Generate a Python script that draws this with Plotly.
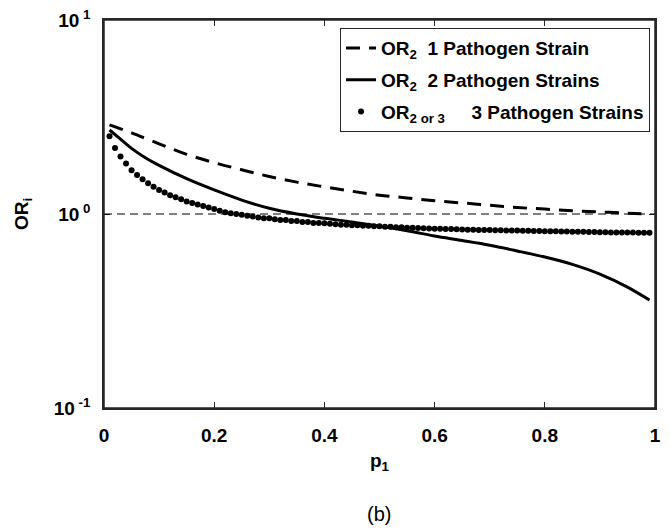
import plotly.graph_objects as go

# ---- data ----
p_dashed = [0.01, 0.05, 0.10, 0.15, 0.20, 0.25, 0.30, 0.35, 0.40, 0.45, 0.50,
            0.55, 0.60, 0.65, 0.70, 0.75, 0.80, 0.85, 0.90, 0.95, 0.99]
or_one_strain = [2.88, 2.62, 2.30, 2.03, 1.84, 1.69, 1.56, 1.46, 1.38, 1.31, 1.25,
                 1.21, 1.17, 1.14, 1.11, 1.08, 1.06, 1.04, 1.025, 1.01, 1.00]

p_solid = [0.01, 0.03, 0.05, 0.075, 0.10, 0.15, 0.20, 0.25, 0.30, 0.35, 0.40, 0.45,
           0.50, 0.55, 0.60, 0.65, 0.70, 0.75, 0.80, 0.85, 0.90, 0.95, 0.99]
or_two_strains = [2.71, 2.43, 2.18, 1.95, 1.78, 1.52, 1.33, 1.18, 1.07, 1.00, 0.95, 0.91,
                  0.865, 0.82, 0.77, 0.73, 0.69, 0.645, 0.60, 0.55, 0.49, 0.42, 0.36]

p_dots = [round(0.01 * k, 2) for k in range(1, 100)]
or_three_strains = [
    2.52, 2.19, 1.98, 1.82, 1.68, 1.59, 1.51, 1.44, 1.38, 1.33,
    1.29, 1.25, 1.22, 1.19, 1.16, 1.14, 1.12, 1.10, 1.08, 1.06,
    1.04, 1.02, 1.01, 1.00, 0.99, 0.98, 0.97, 0.96, 0.95, 0.95,
    0.94, 0.93, 0.93, 0.92, 0.92, 0.91, 0.91, 0.90, 0.90, 0.895,
    0.89, 0.885, 0.88, 0.88, 0.875, 0.875, 0.87, 0.87, 0.865, 0.865,
    0.86, 0.86, 0.855, 0.855, 0.85, 0.85, 0.848, 0.845, 0.843, 0.84,
    0.84, 0.838, 0.836, 0.834, 0.832, 0.83, 0.83, 0.828, 0.827, 0.826,
    0.825, 0.824, 0.823, 0.822, 0.821, 0.82, 0.819, 0.818, 0.817, 0.816,
    0.815, 0.814, 0.813, 0.812, 0.811, 0.81, 0.809, 0.808, 0.807, 0.806,
    0.805, 0.804, 0.803, 0.803, 0.802, 0.802, 0.801, 0.801, 0.80,
]

y_tickvals = [0.1, 1, 10]
y_ticktext = ["10<sup> -1</sup>", "10<sup> 0</sup>", "10<sup> 1</sup>"]
y_minor_vals = [0.2, 0.3, 0.4, 0.5, 0.6, 0.7, 0.8, 0.9, 2, 3, 4, 5, 6, 7, 8, 9]
x_tickvals = [0, 0.2, 0.4, 0.6, 0.8, 1]
x_ticktext = ["0", "0.2", "0.4", "0.6", "0.8", "1"]

FONT = "Liberation Sans"
AX = "#262626"
SP = "\u00a0"

fig = go.Figure()
fig.add_trace(go.Scatter(
    x=p_dashed, y=or_one_strain, mode="lines", line_shape="spline",
    line=dict(color="black", width=3, dash="14px,9px"), legendgroup="a",
    name=f"<b>OR<sub>2</sub>{SP*2}1 Pathogen Strain</b>"))
fig.add_trace(go.Scatter(
    x=p_solid, y=or_two_strains, mode="lines", line_shape="spline",
    line=dict(color="black", width=3), legendgroup="b",
    name=f"<b>OR<sub>2</sub>{SP*2}2 Pathogen Strains</b>"))
fig.add_trace(go.Scatter(
    x=p_dots, y=or_three_strains, mode="markers", legendgroup="c",
    marker=dict(color="black", size=6),
    name=f"<b>OR<sub>2 or 3</sub>{SP*5}3 Pathogen Strains</b>"))

# invisible carrier trace for the minor-tick axis
fig.add_trace(go.Scatter(x=[0], y=[1], yaxis="y2", mode="markers",
                         marker=dict(opacity=0), showlegend=False, hoverinfo="skip"))

fig.add_hline(y=1, line=dict(color="black", width=1.2, dash="8px,5px"))
# axes box
fig.add_shape(type="rect", xref="paper", yref="paper", x0=0, y0=0, x1=1, y1=1,
              line=dict(color=AX, width=1.5), fillcolor="rgba(0,0,0,0)", layer="above")

fig.update_layout(
    template="none",
    width=670, height=532,
    margin=dict(l=96, r=23, t=12, b=132),
    paper_bgcolor="white", plot_bgcolor="white",
    font=dict(family=FONT, color="black", size=18),
    showlegend=True,
    legend=dict(x=0.991, y=0.979, xanchor="right", yanchor="top",
                bordercolor=AX, borderwidth=1, bgcolor="white",
                font=dict(size=19, family=FONT), tracegroupgap=4,
                itemwidth=30),
    annotations=[
        dict(text="(b)", x=0.499, y=-0.273, xref="paper", yref="paper",
             xanchor="center", yanchor="middle", showarrow=False,
             font=dict(size=20, family=FONT)),
        dict(text="<b>p<sub>1</sub></b>", x=0.5, y=-0.139, xref="paper", yref="paper",
             xanchor="center", yanchor="middle", showarrow=False,
             font=dict(size=19, family=FONT)),
        dict(text="<b>OR<sub>i</sub></b>", x=-0.147, y=0.5, xref="paper", yref="paper",
             xanchor="center", yanchor="middle", showarrow=False, textangle=-90,
             font=dict(size=19, family=FONT)),
    ],
    yaxis2=dict(overlaying="y", type="log", range=[-1, 1], tickvals=y_minor_vals,
                showticklabels=False, ticks="inside", ticklen=3, tickcolor=AX,
                tickwidth=1.2, showline=True, linecolor=AX, linewidth=1.5,
                mirror="ticks", showgrid=False, zeroline=False, side="left",
                automargin=False),
)
fig.update_xaxes(
    range=[0, 1], tickvals=x_tickvals, ticktext=[f"<b>{t}</b>" for t in x_ticktext],
    ticks="inside", ticklen=6, tickwidth=1.2, tickcolor=AX, showline=True, linecolor=AX,
    linewidth=1.5, mirror="ticks", showgrid=False, zeroline=False, automargin=False,
    ticklabelstandoff=9, ticklabeloverflow="allow", tickfont=dict(size=19, family=FONT))
fig.update_yaxes(
    type="log", range=[-1, 1], tickvals=y_tickvals,
    ticktext=[f"<b>{t}</b>" for t in y_ticktext],
    ticks="inside", ticklen=6, tickwidth=1.2, tickcolor=AX, showline=True, linecolor=AX,
    linewidth=1.5, mirror="ticks", showgrid=False, zeroline=False, automargin=False,
    ticklabelstandoff=8, ticklabeloverflow="allow", tickfont=dict(size=19, family=FONT))

fig.write_html("out.html")
